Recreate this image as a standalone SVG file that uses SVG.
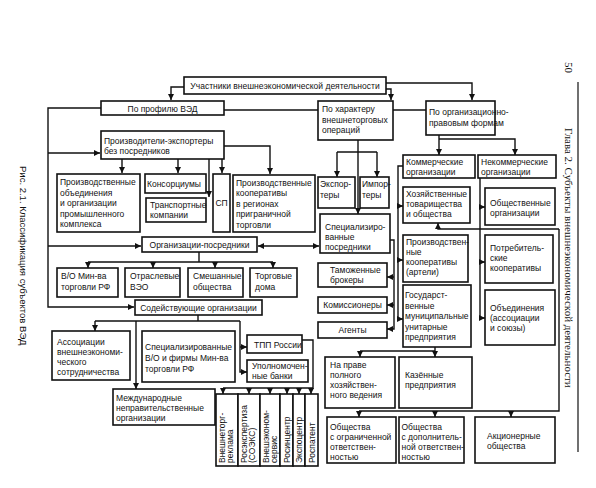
<svg xmlns="http://www.w3.org/2000/svg" width="596" height="488" viewBox="0 0 596 488">
<defs>
<style>
.n rect{fill:#fff;stroke:#111;stroke-width:1.6}
text{font-family:"Liberation Sans",Arial,sans-serif;font-size:8.5px;fill:#111}
.m{text-anchor:middle}
.c path{fill:none;stroke:#111;stroke-width:1.4}
.a{marker-end:url(#ah)}
.cap{font-size:9.5px}
.hdr{font-family:"Liberation Serif","Times New Roman",serif;font-size:11px}
</style>
<marker id="ah" viewBox="0 0 6 6" refX="6" refY="3" markerWidth="6" markerHeight="6" markerUnits="userSpaceOnUse" orient="auto-start-reverse">
<path d="M0,0 L6,3 L0,6 z" fill="#111"/>
</marker>
</defs>
<rect width="596" height="488" fill="#fff"/>

<g class="c" id="connectors">
<path class="a" d="M184,87 H171 V100"/>
<path class="a" d="M386,89 H391 V100"/>
<path class="a" d="M386,83 H472 V100"/>
<path d="M224,110 H318"/>
<path d="M393,110 H426"/>
<path class="a" d="M101,108 H48 V307 H134"/>
<path class="a" d="M48,153 H100"/>
<path class="a" d="M48,246 H141"/>
<path class="a" d="M122,159 V173"/>
<path class="a" d="M178,159 V173"/>
<path class="a" d="M222,159 V173"/>
<path class="a" d="M224,146 H270 V174"/>
<path class="a" d="M209,159 V197"/>
<path d="M199,252 V262 M88,262 H273"/>
<path class="a" d="M88,262 V268"/>
<path class="a" d="M153,262 V268"/>
<path class="a" d="M215,262 V268"/>
<path class="a" d="M273,262 V268"/>
<path class="a" d="M258,246 H319" marker-start="url(#ah)"/>
<path d="M198,315 V321 M95,321 H240"/>
<path class="a" d="M95,321 V331"/>
<path class="a" d="M136,321 V389"/>
<path class="a" d="M240,321 V372 H247"/>
<path class="a" d="M240,347 H247"/>
<path d="M302,340 H313 V388 H223"/>
<path class="a" d="M223,388 V394"/>
<path class="a" d="M249,388 V394"/>
<path class="a" d="M270,388 V394"/>
<path class="a" d="M287,388 V394"/>
<path class="a" d="M299,388 V394"/>
<path class="a" d="M311,388 V394"/>
<path class="a" d="M358,140 V214"/>
<path d="M337,152 H377"/>
<path class="a" d="M337,152 V177"/>
<path class="a" d="M377,152 V177"/>
<path class="a" d="M390,240 H394 V329 H387"/>
<path class="a" d="M394,277 H387"/>
<path class="a" d="M394,305 H387"/>
<path class="a" d="M439,135 V155"/>
<path class="a" d="M439,139 H515 V155"/>
<path class="a" d="M403,166 H398 V319 H403"/>
<path class="a" d="M398,206 H403"/>
<path class="a" d="M398,260 H403"/>
<path class="a" d="M480,178 V318 H485"/>
<path class="a" d="M480,207 H485"/>
<path class="a" d="M480,262 H485"/>
<path class="a" d="M559,229 H438 V223"/>
<path d="M559,229 V411 H359"/>
<path class="a" d="M359,411 V417"/>
<path class="a" d="M435,411 V417"/>
<path class="a" d="M511,411 V417"/>
<path d="M435,347 V351 M360,351 H435"/>
<path class="a" d="M360,351 V357"/>
<path class="a" d="M435,351 V357"/>
</g>

<g class="n" id="n-uchastniki"><rect x="184" y="77" width="202" height="17"/><text class="m" x="285" y="89">Участники внешнеэкономической деятельности</text></g>
<g class="n" id="n-profil"><rect x="101" y="101" width="123" height="14"/><text class="m" x="162.5" y="111.5">По профилю ВЭД</text></g>
<g class="n" id="n-harakter"><rect x="318" y="101" width="75" height="39"/><text x="322" y="112">По характеру</text><text x="322" y="122.5">внешнеторговых</text><text x="322" y="133">операций</text></g>
<g class="n" id="n-orgprav"><rect x="426" y="101" width="69" height="34"/><text x="429" y="115">По организационно-</text><text x="429" y="126">правовым формам</text></g>
<g class="n" id="n-proizvoditeli"><rect x="101" y="131" width="123" height="28"/><text x="104" y="143.5">Производители-экспортеры</text><text x="104" y="153.5">без посредников</text></g>
<g class="n" id="n-obyedineniya"><rect x="57" y="174" width="83" height="58"/><text x="60" y="185">Производственные</text><text x="60" y="195.5">объединения</text><text x="60" y="206">и организации</text><text x="60" y="216.5">промышленного</text><text x="60" y="227">комплекса</text></g>
<g class="n" id="n-konsorciumy"><rect x="145" y="174" width="61" height="19"/><text x="147" y="187">Консорциумы</text></g>
<g class="n" id="n-transport"><rect x="146" y="198" width="60" height="24"/><text x="150" y="207.5">Транспортные</text><text x="150" y="217.5">компании</text></g>
<g class="n" id="n-sp"><rect x="213" y="174" width="17" height="58"/><text class="m" x="221.5" y="206">СП</text></g>
<g class="n" id="n-kooperativy-pogr"><rect x="233" y="175" width="82" height="57"/><text x="236" y="185.5">Производственные</text><text x="236" y="196">кооперативы</text><text x="236" y="206.5">в регионах</text><text x="236" y="217">приграничной</text><text x="236" y="227.5">торговли</text></g>
<g class="n" id="n-posredniki"><rect x="142" y="237" width="115" height="15"/><text class="m" x="199.5" y="248">Организации-посредники</text></g>
<g class="n" id="n-vo"><rect x="57" y="268" width="61" height="29"/><text x="61" y="279">В/О Мин-ва</text><text x="61" y="290">торговли РФ</text></g>
<g class="n" id="n-otraslevye"><rect x="125" y="268" width="55" height="29"/><text x="130" y="279">Отраслевые</text><text x="130" y="290">ВЭО</text></g>
<g class="n" id="n-smeshannye"><rect x="188" y="268" width="55" height="29"/><text x="193" y="279">Смешанные</text><text x="193" y="290">общества</text></g>
<g class="n" id="n-torgovye"><rect x="250" y="268" width="47" height="29"/><text x="255" y="279">Торговые</text><text x="255" y="290">дома</text></g>
<g class="n" id="n-sodeistv"><rect x="135" y="300" width="127" height="15"/><text class="m" x="198.5" y="311">Содействующие организации</text></g>
<g class="n" id="n-associacii"><rect x="52" y="331" width="78" height="49"/><text x="57" y="344.5">Ассоциации</text><text x="57" y="354.5">внешнеэкономи-</text><text x="57" y="364.5">ческого</text><text x="57" y="374.5">сотрудничества</text></g>
<g class="n" id="n-spec-vo"><rect x="142" y="331" width="93" height="51"/><text x="145" y="350">Специализированные</text><text x="145" y="361">В/О и фирмы Мин-ва</text><text x="145" y="371.5">торговли РФ</text></g>
<g class="n" id="n-tpp"><rect x="247" y="335" width="55" height="18"/><text x="254" y="347.5">ТПП России</text></g>
<g class="n" id="n-banki"><rect x="247" y="360" width="61" height="22"/><text x="252" y="368.5">Уполномочен-</text><text x="252" y="378.5">ные банки</text></g>
<g class="n" id="n-mezhdunar"><rect x="113" y="389" width="102" height="36"/><text x="116" y="400.5">Международные</text><text x="116" y="410.5">неправительственные</text><text x="116" y="420.5">организации</text></g>
<g class="n" id="n-vneshtorgreklama"><rect x="216" y="394" width="22" height="72"/><text transform="translate(224.7,463) rotate(-90)">Внешнеторг-</text><text transform="translate(233,463) rotate(-90)">реклама</text></g>
<g class="n" id="n-rosekspertiza"><rect x="238" y="394" width="22" height="72"/><text transform="translate(247,463) rotate(-90)">Росэкспертиза</text><text transform="translate(255,463) rotate(-90)">(СОЭКС)</text></g>
<g class="n" id="n-vneshekonomservis"><rect x="260" y="394" width="20" height="72"/><text transform="translate(268.5,463) rotate(-90)">Внешэконом-</text><text transform="translate(277,463) rotate(-90)">сервис</text></g>
<g class="n" id="n-rosincentr"><rect x="280" y="394" width="13" height="72"/><text transform="translate(289.5,463) rotate(-90)">Росинцентр</text></g>
<g class="n" id="n-ekspocentr"><rect x="293" y="394" width="12" height="72"/><text transform="translate(302,463) rotate(-90)">Экспоцентр</text></g>
<g class="n" id="n-rospatent"><rect x="305" y="394" width="13" height="72"/><text transform="translate(314.5,463) rotate(-90)">Роспатент</text></g>
<g class="n" id="n-eksportery"><rect x="318" y="177" width="37" height="31"/><text x="320" y="187">Экспор-</text><text x="320" y="197.5">теры</text></g>
<g class="n" id="n-importery"><rect x="360" y="177" width="29" height="31"/><text x="362" y="187">Импор-</text><text x="362" y="197.5">теры</text></g>
<g class="n" id="n-spec-posredniki"><rect x="320" y="214" width="70" height="39"/><text x="325" y="229.5">Специализиро-</text><text x="325" y="240">ванные</text><text x="325" y="250">посредники</text></g>
<g class="n" id="n-tamozhennye"><rect x="318" y="263" width="69" height="24"/><text x="330" y="273">Таможенные</text><text x="330" y="283">брокеры</text></g>
<g class="n" id="n-komissionery"><rect x="318" y="297" width="69" height="16"/><text class="m" x="352.5" y="308">Комиссионеры</text></g>
<g class="n" id="n-agenty"><rect x="318" y="322" width="69" height="16"/><text class="m" x="352.5" y="333">Агенты</text></g>
<g class="n" id="n-kommercheskie"><rect x="403" y="155" width="72" height="23"/><text x="406" y="164.5">Коммерческие</text><text x="406" y="174.5">организации</text></g>
<g class="n" id="n-nekommercheskie"><rect x="478" y="155" width="78" height="23"/><text x="481" y="164.5">Некоммерческие</text><text x="481" y="174.5">организации</text></g>
<g class="n" id="n-hoz"><rect x="403" y="187" width="67" height="36"/><text x="406" y="197">Хозяйственные</text><text x="406" y="207">товарищества</text><text x="406" y="217">и общества</text></g>
<g class="n" id="n-arteli"><rect x="403" y="235" width="65" height="47"/><text x="406" y="245">Производствен-</text><text x="406" y="255">ные</text><text x="406" y="265">кооперативы</text><text x="406" y="275">(артели)</text></g>
<g class="n" id="n-gos"><rect x="403" y="285" width="68" height="62"/><text x="405" y="298">Государст-</text><text x="405" y="308.5">венные</text><text x="405" y="319">муниципальные</text><text x="405" y="329.5">унитарные</text><text x="405" y="340">предприятия</text></g>
<g class="n" id="n-obshchestvennye"><rect x="485" y="188" width="70" height="37"/><text x="490" y="205.5">Общественные</text><text x="490" y="215.5">организации</text></g>
<g class="n" id="n-potreb"><rect x="485" y="235" width="68" height="48"/><text x="490" y="251">Потребитель-</text><text x="490" y="261">ские</text><text x="490" y="271">кооперативы</text></g>
<g class="n" id="n-obyed-soyuzy"><rect x="485" y="290" width="70" height="55"/><text x="490" y="311">Объединения</text><text x="490" y="321">(ассоциации</text><text x="490" y="331">и союзы)</text></g>
<g class="n" id="n-hozvedenie"><rect x="325" y="357" width="70" height="51"/><text x="330" y="368">На праве</text><text x="330" y="378">полного</text><text x="330" y="388">хозяйствен-</text><text x="330" y="398">ного ведения</text></g>
<g class="n" id="n-kazennye"><rect x="399" y="357" width="73" height="51"/><text x="405" y="378">Казённые</text><text x="405" y="388">предприятия</text></g>
<g class="n" id="n-ooo"><rect x="327" y="417" width="69" height="46"/><text x="330" y="430">Общества</text><text x="330" y="440">с ограниченной</text><text x="330" y="450">ответствен-</text><text x="330" y="460">ностью</text></g>
<g class="n" id="n-odo"><rect x="399" y="417" width="65" height="46"/><text x="401.5" y="430">Общества</text><text x="401.5" y="440">с дополнитель-</text><text x="401.5" y="450">ной ответствен-</text><text x="401.5" y="460">ностью</text></g>
<g class="n" id="n-ao"><rect x="475" y="417" width="80" height="46"/><text x="487" y="438.5">Акционерные</text><text x="487" y="448.5">общества</text></g>

<text class="cap" transform="translate(20,166) rotate(90)">Рис. 2.1. Классификация субъектов ВЭД</text>
<text class="hdr" transform="translate(565,62) rotate(90)">50</text>
<text class="hdr" transform="translate(565,128) rotate(90)">Глава 2. Субъекты внешнеэкономической деятельности</text>
<path d="M578,82 V452" stroke="#111" stroke-width="1.2" fill="none"/>
</svg>
